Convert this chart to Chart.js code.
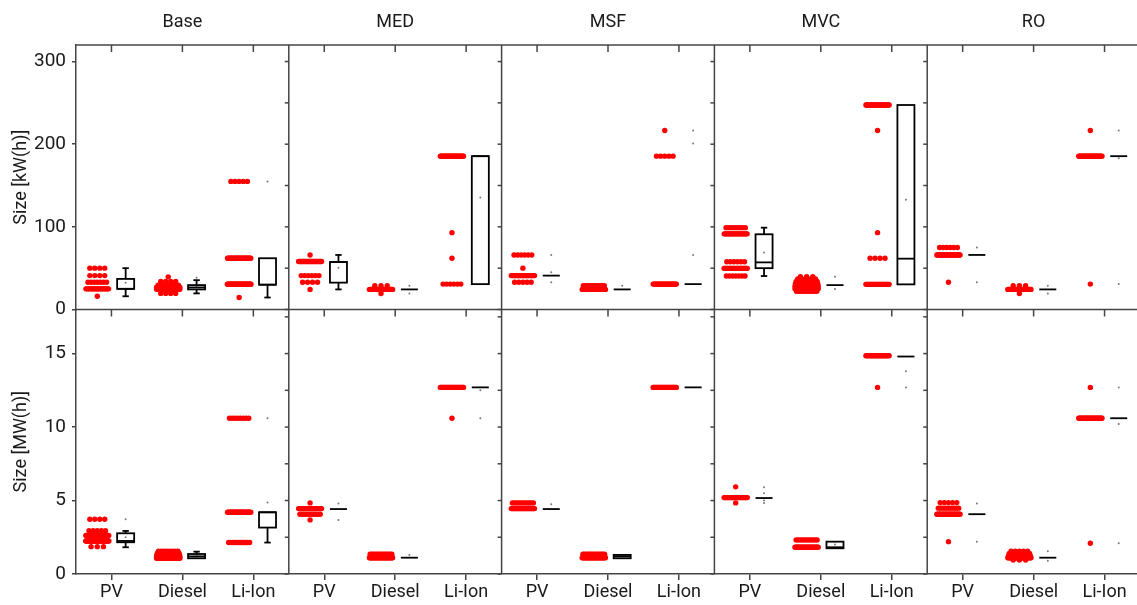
<!DOCTYPE html>
<html>
<head>
<meta charset="utf-8">
<script src="https://cdn.jsdelivr.net/npm/chart.js@4.4.1/dist/chart.umd.min.js"></script>
<style>
  html, body { margin: 0; padding: 0; background: #fff; overflow: hidden; }
  #wrap { position: relative; width: 1144px; height: 605px; }
</style>
</head>
<body>
<div id="wrap"><canvas id="sizes"></canvas></div>
<script>
'use strict';

const scenarios = ['Base', 'MED', 'MSF', 'MVC', 'RO'];
const technologies = ['PV', 'Diesel', 'Li-Ion'];
const kwTicks = [0, 50, 100, 150, 200, 250, 300];
const mwTicks = [0, 2.5, 5, 7.5, 10, 12.5, 15, 17.5];

// Strip points per technology (PV, Diesel, Li-Ion): [size, number of runs at that size]
const baseKwDots = [
    [[50, 4], [41, 4], [33, 7], [25, 22], [16, 1]],
    [[39.5, 1], [34, 4], [29.5, 10], [27, 30], [24.5, 30], [19.5, 4]],
    [[155, 5], [62, 30], [30.5, 40], [14.5, 1]]
];
const medKwDots = [
    [[66, 1], [58, 25], [41, 6], [33, 4], [24.3, 1]],
    [[28.7, 3], [24.3, 30], [19.4, 1]],
    [[185.5, 30], [93, 1], [62, 1], [30.7, 6]]
];
const msfKwDots = [
    [[66, 6], [50, 1], [41, 30], [33, 5]],
    [[28.7, 12], [24.3, 30]],
    [[216.6, 1], [185.5, 5], [30.7, 30]]
];
const mvcKwDots = [
    [[99, 8], [91.5, 25], [57.8, 6], [49.8, 30], [40.5, 7]],
    [[39.6, 3], [37, 6], [34, 12], [31, 20], [28, 30], [25, 30], [22, 10]],
    [[247.4, 30], [216.6, 1], [93, 1], [62, 4], [30.4, 30]]
];
const roKwDots = [
    [[75, 6], [66, 30], [33, 1]],
    [[28.7, 3], [24.3, 30], [19.4, 1]],
    [[216.6, 1], [185.5, 30], [30.7, 1]]
];

const baseMwDots = [
    [[3.73, 4], [2.95, 5], [2.62, 25], [2.25, 30], [1.86, 3]],
    [[1.55, 8], [1.45, 12], [1.35, 18], [1.25, 25], [1.15, 30], [1.07, 30]],
    [[10.6, 8], [4.2, 30], [2.14, 12]]
];
const medMwDots = [
    [[4.84, 1], [4.45, 25], [4.07, 10], [3.68, 1]],
    [[1.34, 15], [1.11, 30]],
    [[12.7, 30], [10.6, 1]]
];
const msfMwDots = [
    [[4.84, 12], [4.45, 30]],
    [[1.34, 15], [1.11, 30]],
    [[12.7, 30]]
];
const mvcMwDots = [
    [[5.93, 1], [5.2, 30], [4.84, 1]],
    [[2.32, 12], [1.82, 30]],
    [[14.86, 30], [12.7, 1]]
];
const roMwDots = [
    [[4.86, 5], [4.48, 10], [4.07, 30], [2.2, 1]],
    [[1.55, 5], [1.4, 10], [1.25, 15], [1.11, 30], [0.95, 3]],
    [[12.7, 1], [10.6, 30], [2.09, 1]]
];

// Box plots: [lower whisker, q1, median, q3, upper whisker]
const baseKwBoxes = [[16, 25, 25, 37, 50], [19.5, 24.3, 26.7, 29.5, 35.5], [14.5, 30, 30, 62, 62]];
const medKwBoxes = [[24.3, 32.5, 57.5, 57.5, 66], [24.3, 24.3, 24.3, 24.3, 24.3], [30.7, 30.7, 185.5, 185.5, 185.5]];
const msfKwBoxes = [[41, 41, 41, 41, 41], [24.3, 24.3, 24.3, 24.3, 24.3], [30.7, 30.7, 30.7, 30.7, 30.7]];
const mvcKwBoxes = [[40.5, 50, 57, 91, 99], [29.5, 29.5, 29.5, 29.5, 29.5], [30.4, 30.4, 61.5, 247.4, 247.4]];
const roKwBoxes = [[66, 66, 66, 66, 66], [24.3, 24.3, 24.3, 24.3, 24.3], [185.5, 185.5, 185.5, 185.5, 185.5]];

const baseMwBoxes = [[1.82, 2.16, 2.25, 2.77, 2.93], [1.07, 1.07, 1.2, 1.36, 1.52], [2.14, 3.16, 4.2, 4.2, 4.2]];
const medMwBoxes = [[4.42, 4.42, 4.42, 4.42, 4.42], [1.11, 1.11, 1.11, 1.11, 1.11], [12.7, 12.7, 12.7, 12.7, 12.7]];
const msfMwBoxes = [[4.42, 4.42, 4.42, 4.42, 4.42], [1.07, 1.07, 1.2, 1.3, 1.3], [12.7, 12.7, 12.7, 12.7, 12.7]];
const mvcMwBoxes = [[5.17, 5.17, 5.17, 5.17, 5.17], [1.75, 1.75, 1.82, 2.2, 2.2], [14.8, 14.8, 14.8, 14.8, 14.8]];
const roMwBoxes = [[4.07, 4.07, 4.07, 4.07, 4.07], [1.11, 1.11, 1.11, 1.11, 1.11], [10.6, 10.6, 10.6, 10.6, 10.6]];

// Mean and percentile markers next to each box
const baseKwMarks = [[32.5], [27, 38.4], [155]];
const medKwMarks = [[50.5], [28.7, 19.4], [135.6]];
const msfKwMarks = [[66, 45, 33], [28.7], [216.6, 200.8, 66]];
const mvcKwMarks = [[69], [39.6, 24.7], [132.8]];
const roKwMarks = [[75, 33], [28.7, 19.4], [216.6, 183, 30.7]];

const baseMwMarks = [[3.73, 2.5], [1.2], [10.6, 4.86]];
const medMwMarks = [[4.8, 3.68], [1.3], [12.5, 10.6]];
const msfMwMarks = [[4.75], [], []];
const mvcMwMarks = [[5.9, 5.5, 5.0, 4.84], [2.0], [13.8, 12.7]];
const roMwMarks = [[4.8, 2.2], [1.55, 0.9], [12.7, 10.2, 2.09]];

const kwDots = [baseKwDots, medKwDots, msfKwDots, mvcKwDots, roKwDots];
const mwDots = [baseMwDots, medMwDots, msfMwDots, mvcMwDots, roMwDots];
const kwBoxes = [baseKwBoxes, medKwBoxes, msfKwBoxes, mvcKwBoxes, roKwBoxes];
const mwBoxes = [baseMwBoxes, medMwBoxes, msfMwBoxes, mvcMwBoxes, roMwBoxes];
const kwMarks = [baseKwMarks, medKwMarks, msfKwMarks, mvcKwMarks, roKwMarks];
const mwMarks = [baseMwMarks, medMwMarks, msfMwMarks, mvcMwMarks, roMwMarks];

const STRIP_SHIFT = -0.2;
const STRIP_HALF = 0.175;
const BOX_SHIFT = 0.2;
const BOX_HALF = 0.12;
const CAP_HALF = 0.045;

const FONT = "Roboto, 'Noto Sans', sans-serif";
const TEXT = '#1a1a1a';
const AXIS = '#444';

function slot(s, t) {
    return s * 3 + t + 1;
}

// spread repeated sizes sideways so the rows read as strips
function stripPoints(dotsByScenario) {
    const pts = [];
    dotsByScenario.forEach((techRows, s) => {
        techRows.forEach((rows, t) => {
            const center = slot(s, t) + STRIP_SHIFT;
            rows.forEach(([size, count]) => {
                const span = 2 * STRIP_HALF * (count - 1) / (count + 1);
                for (let k = 0; k < count; k++) {
                    const x = count === 1 ? center : center - span / 2 + span * k / (count - 1);
                    pts.push({ x: x, y: size });
                }
            });
        });
    });
    return pts;
}

function markPoints(marksByScenario) {
    const pts = [];
    marksByScenario.forEach((techMarks, s) => {
        techMarks.forEach((marks, t) => {
            marks.forEach(v => pts.push({ x: slot(s, t) + BOX_SHIFT, y: v }));
        });
    });
    return pts;
}

function line(ctx, x1, y1, x2, y2) {
    ctx.beginPath();
    ctx.moveTo(x1, y1);
    ctx.lineTo(x2, y2);
    ctx.stroke();
}

const boxPlot = {
    id: 'boxPlot',
    afterDatasetsDraw(chart) {
        const ctx = chart.ctx;
        const x = chart.scales.x;
        ctx.save();
        ctx.strokeStyle = '#000';
        ctx.lineWidth = 1.8;
        [[kwBoxes, 'yTop'], [mwBoxes, 'yBot']].forEach(([boxesByScenario, axisId]) => {
            const y = chart.scales[axisId];
            boxesByScenario.forEach((techBoxes, s) => {
                techBoxes.forEach((box, t) => {
                    const cx = slot(s, t) + BOX_SHIFT;
                    const xl = x.getPixelForValue(cx - BOX_HALF);
                    const xr = x.getPixelForValue(cx + BOX_HALF);
                    const xm = x.getPixelForValue(cx);
                    const cl = x.getPixelForValue(cx - CAP_HALF);
                    const cr = x.getPixelForValue(cx + CAP_HALF);
                    const [lo, q1, med, q3, hi] = box.map(v => y.getPixelForValue(v));
                    if (hi < q3) {
                        line(ctx, xm, q3, xm, hi);
                        line(ctx, cl, hi, cr, hi);
                    }
                    if (lo > q1) {
                        line(ctx, xm, q1, xm, lo);
                        line(ctx, cl, lo, cr, lo);
                    }
                    if (q1 - q3 > 0.5) {
                        ctx.strokeRect(xl, q3, xr - xl, q1 - q3);
                    }
                    line(ctx, xl, med, xr, med);
                });
            });
        });
        ctx.restore();
    }
};

// panel frame: top edge, row divider, scenario dividers and their tick marks
const panelFrame = {
    id: 'panelFrame',
    afterDraw(chart) {
        const { ctx, chartArea: a } = chart;
        const x = chart.scales.x;
        const yTop = chart.scales.yTop;
        const yBot = chart.scales.yBot;
        ctx.save();
        ctx.strokeStyle = AXIS;
        ctx.lineWidth = 1.5;
        const mid = yTop.bottom;
        line(ctx, a.left, a.top, a.right, a.top);
        line(ctx, a.left, mid, a.right, mid);
        for (let s = 1; s < scenarios.length; s++) {
            const px = x.getPixelForValue(s * 3 + 0.5);
            line(ctx, px, a.top, px, a.bottom);
            kwTicks.forEach(v => {
                const py = yTop.getPixelForValue(v);
                line(ctx, px - 4, py, px, py);
            });
            mwTicks.forEach(v => {
                const py = yBot.getPixelForValue(v);
                line(ctx, px - 4, py, px, py);
            });
        }
        for (let v = 1; v <= 15; v++) {
            const px = x.getPixelForValue(v);
            line(ctx, px, a.top, px, a.top + 7);
            line(ctx, px, mid, px, mid + 7);
        }
        ctx.restore();
    }
};

function yScale(ticks, max, labelStep, title) {
    return {
        type: 'linear',
        position: 'left',
        stack: 'rows',
        stackWeight: 1,
        min: 0,
        max: max,
        afterBuildTicks: s => { s.ticks = ticks.map(v => ({ value: v })); },
        afterFit: s => { s.width = 76; },
        ticks: {
            callback: v => (v % labelStep === 0 ? v : ''),
            font: { family: FONT, size: 19 },
            color: TEXT,
            padding: 6
        },
        grid: { drawOnChartArea: false, tickLength: 4, color: AXIS, lineWidth: 1.5 },
        border: { color: AXIS, width: 1.5 },
        title: {
            display: true,
            text: title,
            font: { family: FONT, size: 18 },
            color: TEXT,
            padding: { top: 11, bottom: 0 }
        }
    };
}

new Chart(document.getElementById('sizes'), {
    type: 'scatter',
    data: {
        datasets: [
            { data: stripPoints(kwDots), yAxisID: 'yTop', pointRadius: 2.7, backgroundColor: '#ff0000', borderWidth: 0 },
            { data: stripPoints(mwDots), yAxisID: 'yBot', pointRadius: 2.7, backgroundColor: '#ff0000', borderWidth: 0 },
            { data: markPoints(kwMarks), yAxisID: 'yTop', pointRadius: 1, backgroundColor: '#777', borderWidth: 0 },
            { data: markPoints(mwMarks), yAxisID: 'yBot', pointRadius: 1, backgroundColor: '#777', borderWidth: 0 }
        ]
    },
    options: {
        responsive: true,
        maintainAspectRatio: false,
        animation: false,
        layout: { padding: 0 },
        plugins: {
            legend: { display: false },
            tooltip: { enabled: false }
        },
        scales: {
            x: {
                type: 'linear',
                position: 'bottom',
                min: 0.5,
                max: 15.5,
                afterBuildTicks: s => {
                    s.ticks = Array.from({ length: 15 }, (_, i) => ({ value: i + 1 }));
                },
                afterFit: s => { s.height = 31; },
                ticks: {
                    callback: (v, i) => technologies[i % 3],
                    autoSkip: false,
                    maxRotation: 0,
                    font: { family: FONT, size: 18 },
                    color: TEXT,
                    padding: 2
                },
                grid: { drawOnChartArea: false, tickLength: 6, color: AXIS, lineWidth: 1.5 },
                border: { color: AXIS, width: 1.5 }
            },
            xTop: {
                type: 'linear',
                position: 'top',
                min: 0.5,
                max: 15.5,
                afterBuildTicks: s => {
                    s.ticks = scenarios.map((_, i) => ({ value: i * 3 + 2 }));
                },
                afterFit: s => { s.height = 45; },
                ticks: {
                    callback: (v, i) => scenarios[i],
                    autoSkip: false,
                    maxRotation: 0,
                    font: { family: FONT, size: 18 },
                    color: TEXT,
                    padding: 12
                },
                grid: { display: false, drawTicks: false },
                border: { display: false }
            },
            // the lower row is listed first so the kW(h) row sits on top
            yBot: yScale(mwTicks, 18, 5, 'Size [MW(h)]'),
            yTop: yScale(kwTicks, 320, 100, 'Size [kW(h)]')
        }
    },
    plugins: [boxPlot, panelFrame]
});
</script>
</body>
</html>
